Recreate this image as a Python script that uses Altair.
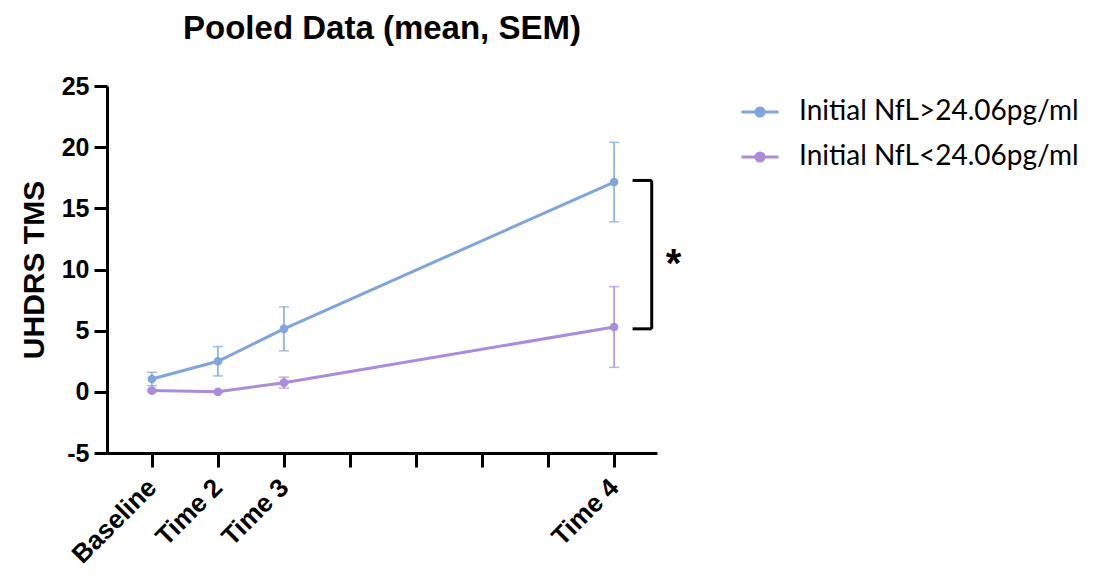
import altair as alt
import pandas as pd

# ---- data ----
times = [0, 1, 2, 7]
time_labels = ["Baseline", "Time 2", "Time 3", "Time 4"]
groups = ["Initial NfL>24.06pg/ml", "Initial NfL<24.06pg/ml"]
high_mean = [1.05, 2.5, 5.15, 17.15]
high_sem = [0.55, 1.2, 1.8, 3.25]
low_mean = [0.1, 0.0, 0.75, 5.3]
low_sem = [0.1, 0.05, 0.45, 3.3]

line_colors = ["#7fa5dc", "#a98cdc"]
err_colors = ["#6788c2", "#9478d2"]

bracket_x = [7.28, 7.57]
bracket_y = [5.15, 17.28]
star_pos = [7.9, 11.2]

rows = []
for g, means, sems in [(groups[0], high_mean, high_sem), (groups[1], low_mean, low_sem)]:
    for t, m, s in zip(times, means, sems):
        rows.append({"group": g, "t": t, "mean": m, "lo": m - s, "hi": m + s})
df = pd.DataFrame(rows)

label_expr = " : ".join(
    [f"datum.value == {t} ? '{l}'" for t, l in zip(times, time_labels)]
) + " : ''"

xscale = alt.Scale(domain=[-0.68, 7.65], nice=False, zero=False)
yscale = alt.Scale(domain=[-5, 25], nice=False, zero=False)

color = alt.Color(
    "group:N",
    sort=groups,
    scale=alt.Scale(domain=groups, range=line_colors),
    legend=alt.Legend(
        title=None,
        orient="none",
        legendX=633,
        legendY=6,
        labelFont="Lato",
        labelFontSize=28,
        labelColor="#000000",
        labelLimit=0,
        symbolType="M -1 0 L 1 0 M 0.22 0 A 0.22 0.22 0 1 1 -0.22 0 A 0.22 0.22 0 1 1 0.22 0",
        symbolSize=1369,
        symbolStrokeWidth=3,
        rowPadding=11,
        labelOffset=19,
        padding=0,
    ),
)

base = alt.Chart(df)

x_enc = alt.X(
    "t:Q",
    scale=xscale,
    axis=alt.Axis(
        title=None,
        values=list(range(0, 8)),
        labelExpr=label_expr,
        labelOverlap=False,
        labelBound=False,
        labelFlush=False,
        labelAngle=-45,
        labelAlign="right",
        labelBaseline="middle",
        labelFont="Liberation Sans",
        labelFontWeight="bold",
        labelFontSize=26,
        labelColor="#000000",
        labelPadding=16,
        tickSize=14,
        tickWidth=3,
        tickColor="#000000",
        domainWidth=3,
        domainColor="#000000",
        grid=False,
    ),
)
y_enc = alt.Y(
    "mean:Q",
    scale=yscale,
    axis=alt.Axis(
        title="UHDRS TMS",
        titleFont="Liberation Sans",
        titleFontWeight="bold",
        titleFontSize=30,
        titleColor="#000000",
        titlePadding=12,
        values=[-5, 0, 5, 10, 15, 20, 25],
        labelExpr="'' + datum.value",
        labelOverlap=False,
        labelFont="Liberation Sans",
        labelFontWeight="bold",
        labelFontSize=25,
        labelColor="#000000",
        labelPadding=5,
        tickSize=13,
        tickWidth=3,
        tickColor="#000000",
        domainWidth=3,
        domainColor="#000000",
        grid=False,
    ),
)

err_color = alt.Color("group:N", scale=alt.Scale(domain=groups, range=err_colors), legend=None)

err_rule = base.mark_rule(strokeWidth=1.5).encode(
    x=alt.X("t:Q", scale=xscale), y=alt.Y("lo:Q", scale=yscale), y2="hi:Q", color=err_color
)
cap_hi = base.mark_tick(thickness=1.5, size=10, orient="horizontal").encode(
    x=alt.X("t:Q", scale=xscale), y=alt.Y("hi:Q", scale=yscale), color=err_color
)
cap_lo = base.mark_tick(thickness=1.5, size=10, orient="horizontal").encode(
    x=alt.X("t:Q", scale=xscale), y=alt.Y("lo:Q", scale=yscale), color=err_color
)

lines = base.mark_line(strokeWidth=3).encode(x=x_enc, y=y_enc, color=color)
points = base.mark_circle(size=75, opacity=1).encode(
    x=alt.X("t:Q", scale=xscale), y=alt.Y("mean:Q", scale=yscale), color=color
)

br = pd.DataFrame({"x1": [bracket_x[1], bracket_x[0], bracket_x[0]],
                   "x2": [bracket_x[1], bracket_x[1], bracket_x[1]],
                   "y1": [bracket_y[0], bracket_y[1], bracket_y[0]],
                   "y2": [bracket_y[1], bracket_y[1], bracket_y[0]]})
bracket = alt.Chart(br).mark_rule(strokeWidth=3, color="#000000").encode(
    x=alt.X("x1:Q", scale=xscale), x2="x2:Q",
    y=alt.Y("y1:Q", scale=yscale), y2="y2:Q",
)
star = alt.Chart(pd.DataFrame({"x": [star_pos[0]], "y": [star_pos[1]], "s": ["*"]})).mark_text(
    font="Liberation Sans", fontWeight="bold", fontSize=40, color="#000000", baseline="middle", dy=10
).encode(x=alt.X("x:Q", scale=xscale), y=alt.Y("y:Q", scale=yscale), text="s:N")

chart = alt.layer(lines, err_rule, cap_hi, cap_lo, points, bracket, star).properties(
    width=550,
    height=367,
    padding={"left": 99, "top": 78, "right": 445, "bottom": 122},
    autosize=alt.AutoSizeParams(type="none"),
    title=alt.TitleParams(
        "Pooled Data (mean, SEM)",
        font="Liberation Sans",
        fontWeight="bold",
        fontSize=33,
        color="#000000",
        anchor="middle",
        offset=28,
    ),
).configure(background="white").configure_view(stroke=None)

chart.save("out.html", embed_options={"renderer": "svg", "actions": False})
